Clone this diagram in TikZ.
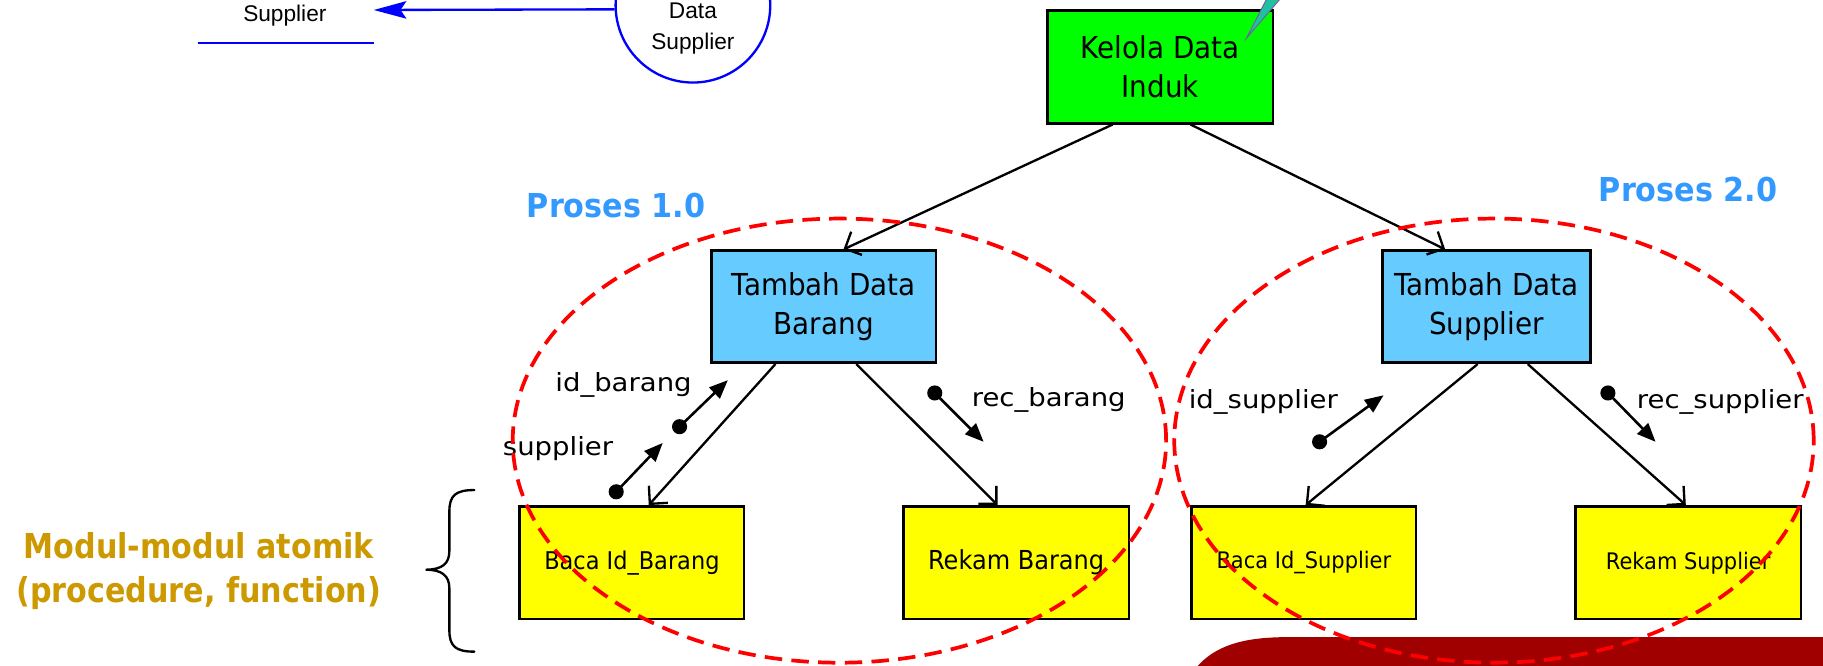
\documentclass[tikz,border=0pt]{standalone}
\usepackage{fontspec}
\setmainfont{DejaVu Sans}[FakeStretch=0.92]
\newfontfamily\lblfont{DejaVu Sans}[FakeStretch=1.1]
\newfontfamily\modfont{DejaVu Sans}[FakeStretch=0.88]
\newfontfamily\arialfont{Liberation Sans}
\usetikzlibrary{arrows.meta}
\definecolor{kgreen}{HTML}{00FF00}
\definecolor{tblue}{HTML}{66CCFF}
\definecolor{byellow}{HTML}{FFFF00}
\definecolor{prosesblue}{HTML}{3399FF}
\definecolor{modulgold}{HTML}{CC9900}
\definecolor{maroonfill}{HTML}{A00000}
\definecolor{pointerteal}{HTML}{20C0A0}
\definecolor{pointeredge}{HTML}{7060A0}
\begin{document}
\begin{tikzpicture}[x=1pt,y=-1pt,
  procbox/.style={draw=black, line width=2.2pt, inner sep=0pt, align=center,
    font=\fontsize{26}{33}\selectfont},
  modbox/.style={draw=black, line width=2.2pt, fill=byellow, inner sep=0pt,
    align=center, minimum height=97pt},
  conn/.style={line width=2pt, -{Straight Barb[length=11pt,width=22pt,line width=2pt]}},
  couple/.style={line width=2.2pt, -{Triangle[length=16pt,width=13pt]}},
  couplelbl/.style={anchor=base, inner sep=0pt, font=\lblfont\fontsize{21.5}{26}\selectfont},
  proses/.style={text=prosesblue, inner sep=0pt, font=\bfseries\fontsize{28.3}{34}\selectfont},
  reddash/.style={draw=red, line width=3.2pt, dash pattern=on 15pt off 8pt},
  blueln/.style={draw=blue, line width=2.4pt},
  dfdtext/.style={inner sep=0pt, font=\arialfont\fontsize{19.5}{26.6}\selectfont}
]
\useasboundingbox (0,0) rectangle (1568,572);
\clip (0,0) rectangle (1568,572);

% dark red shape (bottom right)
\fill[maroonfill] (1018,592) .. controls (1034,556) and (1066,548) .. (1108,548)
  -- (1580,548) -- (1580,600) -- cycle;

% top-left DFD fragment
\node[dfdtext, anchor=base] (supT) at (245,18.6) {Supplier};
\coordinate (ulA) at (170,37);
\coordinate (ulB) at (321.5,37);
\draw[blueln] (ulA) -- (ulB);
\node[draw=blue, line width=2pt, circle, minimum size=133pt, inner sep=0pt] (proc) at (596,4.5) {};
\node[dfdtext, anchor=base] (procT1) at (596,15.8) {Data};
\node[dfdtext, anchor=base] (procT2) at (596,42.4) {Supplier};
\coordinate (arrT) at (321.5,8.6);
\draw[blue, line width=2pt, -{Stealth[length=28pt,width=15pt,inset=5pt]}] (proc.183.5) -- (arrT);

% process boxes
\node[procbox, fill=kgreen, minimum width=194pt, minimum height=97pt] (kel) at (998,57.5) {Kelola Data\\Induk};
\filldraw[fill=pointerteal, draw=pointeredge, line width=0.8pt] (1072,33) -- (1090,-2) -- (1102,-2) -- cycle;

\node[procbox, fill=tblue, minimum width=193pt, minimum height=96.4pt] (tdb) at (708.5,263.8) {Tambah Data\\Barang};
\node[procbox, fill=tblue, minimum width=179pt, minimum height=96.4pt] (tds) at (1278.5,263.8) {Tambah Data\\Supplier};

\node[modbox, minimum width=193pt, font=\fontsize{21}{25}\selectfont] (bib) at (543.5,484) {Baca Id\_Barang};
\node[modbox, minimum width=194pt, font=\fontsize{22.5}{27}\selectfont] (rb) at (874,484) {Rekam Barang};
\node[modbox, minimum width=193pt, font=\fontsize{19.6}{24}\selectfont] (bis) at (1121.5,484) {Baca Id\_Supplier};
\node[modbox, minimum width=194pt, font=\fontsize{19.6}{24}\selectfont] (rs) at (1452,484) {Rekam Supplier};

% connectors
\draw[conn] ([xshift=-41pt]kel.south) -- ([xshift=17pt]tdb.north);
\draw[conn] ([xshift=26pt]kel.south) -- ([xshift=-35.5pt]tds.north);
\draw[conn] ([xshift=-41.5pt]tdb.south) -- ([xshift=14.5pt]bib.north);
\draw[conn] ([xshift=28pt]tdb.south) -- ([xshift=-16pt]rb.north);
\draw[conn] ([xshift=-7.5pt]tds.south) -- ([xshift=1.5pt]bis.north);
\draw[conn] ([xshift=35.5pt]tds.south) -- ([xshift=-2pt]rs.north);

% data couples
\coordinate (c1a) at (584.5,367); \coordinate (c1b) at (626,327);
\coordinate (c2a) at (530,423);   \coordinate (c2b) at (570,381);
\coordinate (c3a) at (804,338);   \coordinate (c3b) at (846,380);
\coordinate (c4a) at (1135,380);  \coordinate (c4b) at (1190,340);
\coordinate (c5a) at (1383,338);  \coordinate (c5b) at (1424,380);
\foreach \c in {c1,c2,c3,c4,c5}{
  \draw[couple] (\c a) -- (\c b);
  \fill (\c a) circle (6.5pt);
}
\node[couplelbl] (l1) at (536.3,337) {id\_barang};
\node[couplelbl] (l2) at (480,391.4) {supplier};
\node[couplelbl] (l3) at (902,349.8) {rec\_barang};
\node[couplelbl] (l4) at (1086.6,351.2) {id\_supplier};
\node[couplelbl] (l5) at (1479.6,351.2) {rec\_supplier};

% titles
\node[proses] (p1) at (530,176.5) {Proses 1.0};
\node[proses] (p2) at (1452,163) {Proses 2.0};
\node[text=modulgold, align=center, inner sep=0pt,
  font=\modfont\bfseries\fontsize{29.5}{37.8}\selectfont] (mod) at (171,491) {Modul-modul atomik\\(procedure, function)};

% brace
\draw[line width=2pt, line cap=round] (408,421.5) .. controls (392,421.5) and (386.5,426) .. (386.5,440)
  -- (386.5,474) .. controls (386.5,485) and (380,490) .. (366,490)
  .. controls (380,490) and (386.5,495) .. (386.5,506)
  -- (386.5,542) .. controls (386.5,556) and (392,560.5) .. (408,560.5);

% process groupings
\draw[reddash] (722,379) ellipse [x radius=281pt, y radius=191pt];
\draw[reddash] (1285,379) ellipse [x radius=275pt, y radius=191pt];
\end{tikzpicture}
\end{document}
